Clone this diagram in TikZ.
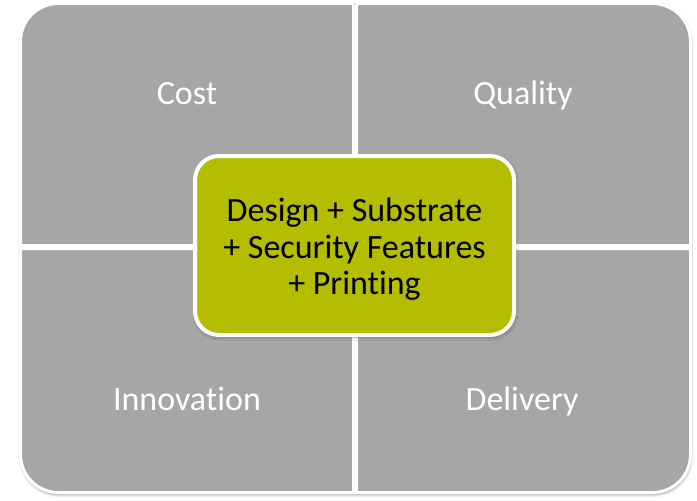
\documentclass[tikz,border=0pt]{standalone}
\usepackage{fontspec}
\setmainfont[Ligatures={NoCommon}]{Carlito}
\usetikzlibrary{shadows.blur,positioning}

\begin{document}
\begin{tikzpicture}[x=1pt,y=-1pt]
  % Colors
  \definecolor{quadgray}{RGB}{166,166,166}
  \definecolor{coreolive}{RGB}{181,189,0}

  % Styles
  \tikzstyle{quadrant}=[fill=quadgray,draw=white,line width=3pt,
    blur shadow={shadow xshift=0.5pt,shadow yshift=-2pt,shadow blur radius=3pt,shadow opacity=45}]
  \tikzstyle{quad label}=[text=white,font=\fontsize{34}{40}\selectfont,anchor=base,inner sep=0pt]
  \tikzstyle{core box}=[rectangle,rounded corners=24pt,fill=coreolive,draw=white,line width=4pt,
    minimum width=319pt,minimum height=179pt,inner sep=0pt,
    blur shadow={shadow xshift=1pt,shadow yshift=-2pt,shadow blur radius=3pt,shadow opacity=45}]
  \tikzstyle{core text}=[inner sep=0pt,align=center,font=\fontsize{34}{36.5}\selectfont]

  \useasboundingbox (0,0) rectangle (697,501);

  % The quadrants
  \draw[quadrant] (20.5,245.5) [rounded corners=38pt] -- (20.5,3.5) [sharp corners] -- (353.5,3.5) -- (353.5,245.5) -- cycle;
  \draw[quadrant] (356.5,3.5) [rounded corners=38pt] -- (690.5,3.5) [sharp corners] -- (690.5,245.5) -- (356.5,245.5) -- cycle;
  \draw[quadrant] (20.5,248.5) [rounded corners=38pt] -- (20.5,492.5) [sharp corners] -- (353.5,492.5) -- (353.5,248.5) -- cycle;
  \draw[quadrant] (690.5,248.5) [rounded corners=38pt] -- (690.5,492.5) [sharp corners] -- (356.5,492.5) -- (356.5,248.5) -- cycle;

  % Labels
  \node[quad label] (cost) at (187,104) {Cost};
  \node[quad label] (quality) at (523,104) {Quality};
  \node[quad label] (innovation) at (187,410) {Innovation};
  \node[quad label] (delivery) at (522,410) {Delivery};

  % Center box
  \node[core box] (core) at (354.5,245.5) {};
  \node[core text] (coretext) at (354.5,249.5) {Design + Substrate\\+ Security Features\\+ Printing};
\end{tikzpicture}
\end{document}
